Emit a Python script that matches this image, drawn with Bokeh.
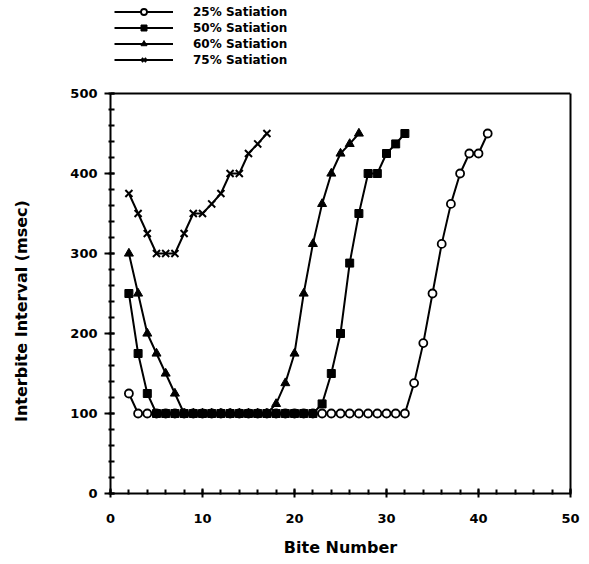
from bokeh.plotting import figure
from bokeh.models import (Legend, LegendItem, SingleIntervalTicker, Range1d, Span,
                          LinearAxis, FixedTicker)
from bokeh.embed import file_html
from bokeh.resources import INLINE

# ---- data ----
x25 = [2, 3, 4, 5, 6, 7, 8, 9, 10, 11, 12, 13, 14, 15, 16, 17, 18, 19, 20, 21, 22,
       23, 24, 25, 26, 27, 28, 29, 30, 31, 32, 33, 34, 35, 36, 37, 38, 39, 40, 41]
y25 = [125, 100, 100, 100, 100, 100, 100, 100, 100, 100, 100, 100, 100, 100, 100, 100,
       100, 100, 100, 100, 100, 100, 100, 100, 100, 100, 100, 100, 100, 100, 100,
       138, 188, 250, 312, 362, 400, 425, 425, 450]

x50 = [2, 3, 4, 5, 6, 7, 8, 9, 10, 11, 12, 13, 14, 15, 16, 17, 18, 19, 20, 21, 22,
       23, 24, 25, 26, 27, 28, 29, 30, 31, 32]
y50 = [250, 175, 125, 100, 100, 100, 100, 100, 100, 100, 100, 100, 100, 100, 100, 100,
       100, 100, 100, 100, 100, 112, 150, 200, 288, 350, 400, 400, 425, 437, 450]

x60 = [2, 3, 4, 5, 6, 7, 8, 9, 10, 11, 12, 13, 14, 15, 16, 17, 18, 19, 20, 21, 22,
       23, 24, 25, 26, 27]
y60 = [300, 250, 200, 175, 150, 125, 100, 100, 100, 100, 100, 100, 100, 100, 100, 100,
       112, 138, 175, 250, 312, 362, 400, 425, 437, 450]

x75 = [2, 3, 4, 5, 6, 7, 8, 9, 10, 11, 12, 13, 14, 15, 16, 17]
y75 = [375, 350, 325, 300, 300, 300, 325, 350, 350, 362, 375, 400, 400, 425, 437, 450]

labels = ["25% Satiation", "50% Satiation", "60% Satiation", "75% Satiation"]

x_label = "Bite Number"
y_label = "Interbite Interval (msec)"

X_MAX = 50
Y_MAX = 500

FONT = "DejaVu Sans"

W, H = 589, 564
BL, BR, BT, BB = 110, 19, 0, 71
frame_h = H - BT - BB          # 493 px
data_h = 400                   # pixels covered by 0..Y_MAX
y_top = Y_MAX * frame_h / data_h  # frame extends above the data box to hold the legend

p = figure(width=W, height=H, output_backend="svg", toolbar_location=None,
           x_range=Range1d(0, X_MAX), y_range=Range1d(0, y_top),
           min_border_left=BL, min_border_right=BR, min_border_top=BT,
           min_border_bottom=BB)

p.xgrid.visible = False
p.ygrid.visible = False
p.outline_line_color = None
p.background_fill_color = "white"
p.border_fill_color = "white"

# axes
p.xaxis.ticker = SingleIntervalTicker(interval=10, num_minor_ticks=5)
p.yaxis.ticker = SingleIntervalTicker(interval=100, num_minor_ticks=5)
p.yaxis.bounds = (0, Y_MAX)
for ax in (p.xaxis[0], p.yaxis[0]):
    ax.axis_line_width = 2
    ax.axis_line_color = "black"
    ax.major_tick_line_width = 2
    ax.minor_tick_line_width = 2
    ax.major_tick_line_color = "black"
    ax.minor_tick_line_color = "black"
    ax.major_label_text_font = FONT
    ax.major_label_text_font_style = "bold"
    ax.major_label_text_font_size = "13px"
    ax.major_label_text_color = "black"
    ax.axis_label_text_font = FONT
    ax.axis_label_text_font_style = "bold"
    ax.axis_label_text_font_size = "16px"
    ax.axis_label_text_color = "black"

p.yaxis.major_tick_out = 6
p.yaxis.major_tick_in = 4
p.yaxis.minor_tick_out = 2
p.yaxis.minor_tick_in = 4
p.yaxis.major_label_standoff = 7
# the frame reaches above the data box (to hold the legend); trailing no-break
# spaces move the visible label down to the middle of the data box
p.yaxis.axis_label = y_label + "\u00a0" * 23
p.yaxis.axis_label_standoff = 36

p.xaxis.major_tick_out = 4
p.xaxis.major_tick_in = 5
p.xaxis.minor_tick_out = 1
p.xaxis.minor_tick_in = 4
p.xaxis.major_label_standoff = 16
p.xaxis.axis_label = x_label
p.xaxis.axis_label_standoff = 12

# box edges: right border as a bare axis, top border as a span
right_ax = LinearAxis(ticker=FixedTicker(ticks=[]), bounds=(0, Y_MAX),
                      axis_line_width=2, axis_line_color="black",
                      major_tick_line_color=None, minor_tick_line_color=None,
                      major_label_text_font_size="0px")
p.add_layout(right_ax, "right")
p.add_layout(Span(location=Y_MAX, dimension="width", line_color="black", line_width=2))

# series
l25 = p.line(x25, y25, line_color="black", line_width=2)
s25 = p.scatter(x25, y25, marker="circle", size=8, fill_color="white",
                line_color="black", line_width=1.8)
l50 = p.line(x50, y50, line_color="black", line_width=2)
s50 = p.scatter(x50, y50, marker="square", size=8, fill_color="black", line_color="black")
l60 = p.line(x60, y60, line_color="black", line_width=2)
s60 = p.scatter(x60, y60, marker="triangle", size=9, fill_color="black", line_color="black")
l75 = p.line(x75, y75, line_color="black", line_width=2)
s75 = p.scatter(x75, y75, marker="x", size=10, line_color="black", line_width=2)

legend = Legend(items=[
    LegendItem(label=labels[0], renderers=[l25, s25]),
    LegendItem(label=labels[1], renderers=[l50, s50]),
    LegendItem(label=labels[2], renderers=[l60, s60]),
    LegendItem(label=labels[3], renderers=[l75, s75]),
], location="top_left")
legend.border_line_color = None
legend.background_fill_alpha = 0
legend.padding = 0
legend.margin = 4
legend.spacing = 1
legend.glyph_width = 59
legend.glyph_height = 15
legend.label_height = 15
legend.label_standoff = 20
legend.label_text_font = FONT
legend.label_text_font_style = "bold"
legend.label_text_font_size = "12px"
legend.label_text_color = "black"
p.add_layout(legend, "center")

open("out.html", "w").write(file_html(p, INLINE))
